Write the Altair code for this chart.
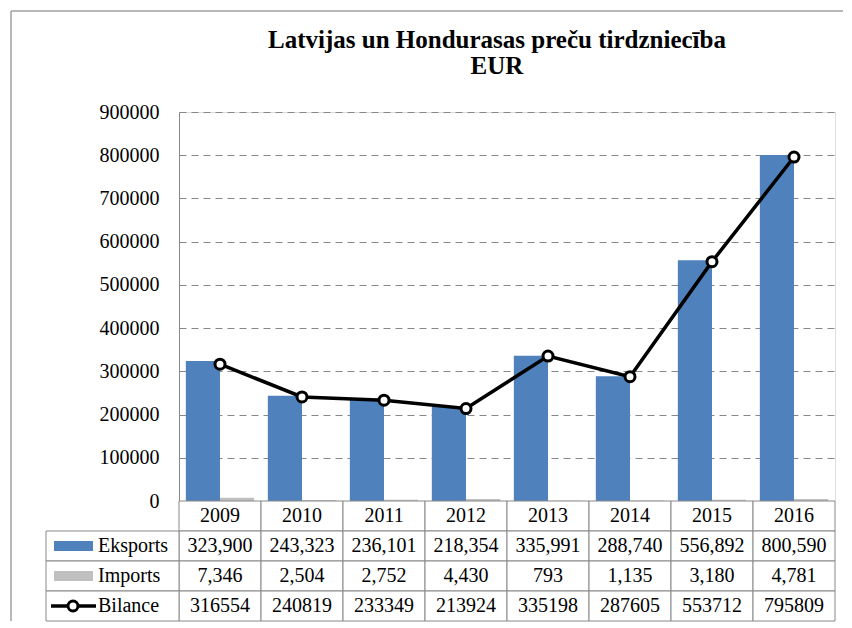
import altair as alt
import pandas as pd

# ---- data ----
years = ["2009", "2010", "2011", "2012", "2013", "2014", "2015", "2016"]
eksports = [323900, 243323, 236101, 218354, 335991, 288740, 556892, 800590]
imports = [7346, 2504, 2752, 4430, 793, 1135, 3180, 4781]
bilance = [316554, 240819, 233349, 213924, 335198, 287605, 553712, 795809]
bar_series = ["Eksports", "Imports"]
row_names = ["Gads", "Eksports", "Imports", "Bilance"]
y_ticks = [0, 100000, 200000, 300000, 400000, 500000, 600000, 700000, 800000, 900000]
title_lines = ["Latvijas un Hondurasas preču tirdzniecība", "EUR"]

# ---- layout / style ----
W, H = 656, 389
ROW_H = 30
FONT = "Liberation Serif"
BLUE = "#4F81BD"
GRAY = "#C0C0C0"
LINEGRAY = "#888888"

bars_df = pd.DataFrame({
    "year": years * 2,
    "series": ["Eksports"] * len(years) + ["Imports"] * len(years),
    "value": eksports + imports,
})
line_df = pd.DataFrame({"year": years, "value": bilance})

cells = []
for i, yr in enumerate(years):
    cells.append({"year": yr, "row": "Gads", "text": yr})
    cells.append({"year": yr, "row": "Eksports", "text": f"{eksports[i]:,}"})
    cells.append({"year": yr, "row": "Imports", "text": f"{imports[i]:,}"})
    cells.append({"year": yr, "row": "Bilance", "text": str(bilance[i])})
cells_df = pd.DataFrame(cells)
labels_df = pd.DataFrame({"row": ["Eksports", "Imports", "Bilance"]})
sym_df = pd.DataFrame({"row": ["Eksports", "Imports"]})
bil_df = pd.DataFrame({"row": ["Bilance"]})
one_df = pd.DataFrame({"a": [0]})

x_enc = alt.X("year:N", scale=alt.Scale(domain=years, paddingInner=0, paddingOuter=0), axis=None)
y_scale = alt.Scale(domain=[0, 900000], nice=False)
y_axis = alt.Axis(values=y_ticks, format="d", ticks=False, labelPadding=20,
                  grid=True, gridDash=[7, 5], gridColor=LINEGRAY, gridWidth=1,
                  domainColor=LINEGRAY, title=None, labelFontSize=20,
                  labelFont=FONT, labelColor="black")
y_enc = alt.Y("value:Q", scale=y_scale, axis=y_axis)
row_scale = alt.Scale(domain=row_names, range=[H, H + 4 * ROW_H], paddingInner=0, paddingOuter=0)
row_enc = alt.Y("row:N", scale=row_scale, axis=None)
color_scale = alt.Scale(domain=bar_series, range=[BLUE, GRAY])

bars = alt.Chart(bars_df).mark_bar().encode(
    x=x_enc,
    xOffset=alt.XOffset("series:N", scale=alt.Scale(domain=bar_series, paddingInner=0, paddingOuter=0.2)),
    y=y_enc,
    color=alt.Color("series:N", scale=color_scale, legend=None),
)
line = alt.Chart(line_df).mark_line(color="black", strokeWidth=3.5).encode(x=x_enc, y=y_enc)
pts = alt.Chart(line_df).mark_point(filled=True, fill="white", stroke="black",
                                     strokeWidth=3, size=100, opacity=1).encode(x=x_enc, y=y_enc)
plot = alt.layer(bars, line, pts)

cell_rect = alt.Chart(cells_df).mark_rect(fill="white", stroke=LINEGRAY, strokeWidth=1).encode(
    x=x_enc, y=row_enc
)
cell_text = alt.Chart(cells_df).mark_text(font=FONT, fontSize=20, color="black", baseline="middle").encode(
    x=x_enc, y=row_enc, text="text:N"
)
lab_rect = alt.Chart(labels_df).mark_rect(fill="white", stroke=LINEGRAY, strokeWidth=1).encode(
    x=alt.value(-133), x2=alt.value(0), y=row_enc
)
lab_text = alt.Chart(labels_df).mark_text(font=FONT, fontSize=20, color="black",
                                           baseline="middle", align="left").encode(
    x=alt.value(-81), y=row_enc, text="row:N"
)
sym_bar = alt.Chart(sym_df).mark_rule(strokeWidth=10, strokeCap="butt").encode(
    x=alt.value(-125), x2=alt.value(-86), y=row_enc,
    color=alt.Color("row:N", scale=color_scale, legend=None)
)
sym_line = alt.Chart(bil_df).mark_rule(strokeWidth=3.5, color="black").encode(
    x=alt.value(-128), x2=alt.value(-83), y=row_enc
)
sym_pt = alt.Chart(bil_df).mark_point(filled=True, fill="white", stroke="black",
                                       strokeWidth=3, size=100, opacity=1).encode(
    x=alt.value(-106), y=row_enc
)
table = alt.layer(cell_rect, cell_text, lab_rect, lab_text, sym_bar, sym_line, sym_pt)

frame_top = alt.Chart(one_df).mark_rule(color="#a0a0a0", strokeWidth=1.5).encode(
    x=alt.value(-168), x2=alt.value(664), y=alt.value(-101)
)
frame_left = alt.Chart(one_df).mark_rule(color="#a0a0a0", strokeWidth=1.5).encode(
    x=alt.value(-168), y=alt.value(-101), y2=alt.value(H + 4 * ROW_H)
)
title = alt.Chart(one_df).mark_text(
    text=title_lines, font=FONT, fontSize=25, fontWeight="bold", color="black",
    lineHeight=26, align="center", baseline="top"
).encode(x=alt.value(W / 2 - 10), y=alt.value(-84))

chart = alt.layer(plot, table, frame_top, frame_left, title).resolve_scale(
    y="independent"
).properties(
    width=W, height=H,
    padding={"left": 2, "top": 2, "right": 0, "bottom": 0},
).configure_view(stroke=None).configure(background="white")

chart.save("out.html", embed_options={"renderer": "svg", "actions": False})
